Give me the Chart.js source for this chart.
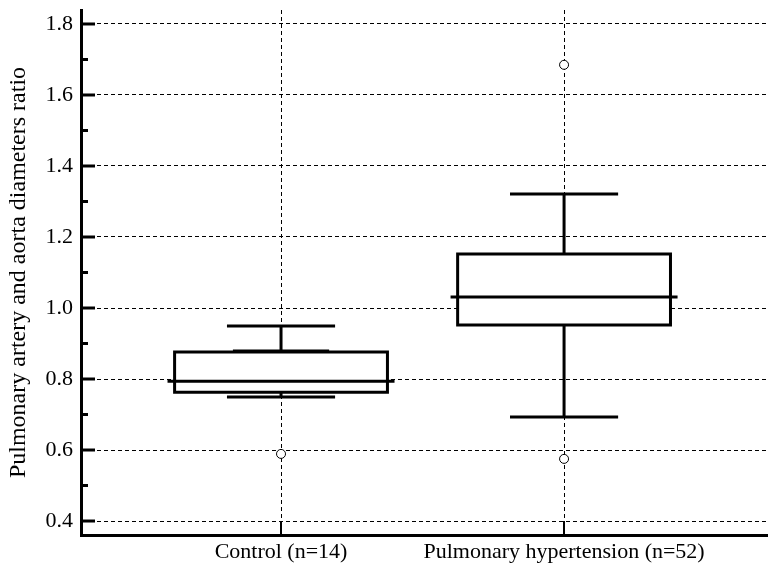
<!DOCTYPE html>
<html>
<head>
<meta charset="utf-8">
<script src="https://cdn.jsdelivr.net/npm/chart.js@4.4.1/dist/chart.umd.min.js"></script>
<style>
  html, body { margin: 0; padding: 0; background: #fff; }
  #wrap { width: 781px; height: 575px; }
</style>
</head>
<body>
<div id="wrap"><canvas id="chart" width="781" height="575"></canvas></div>
<script>
(function () {
    'use strict';

    // ── Data ──────────────────────────────────────────────────────────────────
    var categories  = ['Control (n=14)', 'Pulmonary hypertension (n=52)'];
    var positions   = [1, 2];
    var whiskerLow  = [0.749, 0.693];
    var q1          = [0.763, 0.952];
    var median      = [0.794, 1.031];
    var q3          = [0.876, 1.152];
    var whiskerHigh = [0.949, 1.321];
    var innerMark   = [0.879, null];          // heavy short line on control box top
    var outliers    = [[0.589], [1.685, 0.575]];
    var yTicks      = [0.4, 0.6, 0.8, 1.0, 1.2, 1.4, 1.6, 1.8];
    var yMinorTicks = [0.5, 0.7, 0.9, 1.1, 1.3, 1.5, 1.7];

    // ── Sizes (x units, one category step = 1) ────────────────────────────────
    var BOX_HALF = 0.376, MED_HALF = 0.401, CAP_HALF = 0.191, MARK_HALF = 0.17;
    var FONT = "'Liberation Serif', 'Times New Roman', serif";

    function seg(x0, y0, x1, y1) {
        return [{ x: x0, y: y0 }, { x: x1, y: y1 }];
    }

    function lineSet(data, extra) {
        var ds = {
            type: 'line',
            data: data,
            borderColor: '#000',
            borderWidth: 3,
            pointRadius: 0,
            fill: false,
            order: 0,
            borderCapStyle: 'butt'
        };
        for (var k in extra) ds[k] = extra[k];
        return ds;
    }

    var datasets = [];
    positions.forEach(function (c, i) {
        // box (white fill hides the grid)
        datasets.push(lineSet([
            { x: c - BOX_HALF, y: q1[i] }, { x: c + BOX_HALF, y: q1[i] },
            { x: c + BOX_HALF, y: q3[i] }, { x: c - BOX_HALF, y: q3[i] },
            { x: c - BOX_HALF, y: q1[i] }, { x: c + BOX_HALF, y: q1[i] }
        ], { fill: 'shape', backgroundColor: '#fff', order: 2, borderJoinStyle: 'miter' }));
        datasets.push(lineSet(seg(c - MED_HALF, median[i], c + MED_HALF, median[i])));
        datasets.push(lineSet(seg(c, q3[i], c, whiskerHigh[i])));
        datasets.push(lineSet(seg(c, q1[i], c, whiskerLow[i])));
        datasets.push(lineSet(seg(c - CAP_HALF, whiskerHigh[i], c + CAP_HALF, whiskerHigh[i])));
        datasets.push(lineSet(seg(c - CAP_HALF, whiskerLow[i], c + CAP_HALF, whiskerLow[i])));
        if (innerMark[i] !== null) {
            datasets.push(lineSet(seg(c - MARK_HALF, innerMark[i], c + MARK_HALF, innerMark[i])));
        }
        datasets.push({
            type: 'scatter',
            data: outliers[i].map(function (v) { return { x: c, y: v }; }),
            pointRadius: 4.5,
            pointBackgroundColor: '#fff',
            pointBorderColor: '#000',
            pointBorderWidth: 1,
            order: 0
        });
    });

    // ── Inward tick marks ─────────────────────────────────────────────────────
    var innerTicks = {
        id: 'innerTicks',
        afterDraw: function (chart) {
            var ctx = chart.ctx, area = chart.chartArea;
            var x = chart.scales.x, y = chart.scales.y;
            ctx.save();
            ctx.strokeStyle = '#000';
            ctx.lineWidth = 3;
            ctx.lineCap = 'butt';
            function hTick(v, len) {
                var py = y.getPixelForValue(v);
                ctx.beginPath();
                ctx.moveTo(area.left, py);
                ctx.lineTo(area.left + len, py);
                ctx.stroke();
            }
            yTicks.forEach(function (v) { hTick(v, 14); });
            yMinorTicks.forEach(function (v) { hTick(v, 7); });
            ctx.lineWidth = 2;
            positions.forEach(function (v) {
                var px = Math.round(x.getPixelForValue(v));
                ctx.beginPath();
                ctx.moveTo(px, area.bottom);
                ctx.lineTo(px, area.bottom - 14);
                ctx.stroke();
            });
            ctx.restore();
        }
    };

    var gridOpts = { color: '#000', lineWidth: 1, drawTicks: false };
    var borderOpts = { display: true, color: '#000', width: 3, dash: [4, 3] };

    new Chart(document.getElementById('chart').getContext('2d'), {
        type: 'scatter',
        data: { datasets: datasets },
        options: {
            responsive: false,
            animation: false,
            layout: { padding: { top: 10, right: 14, left: 0, bottom: 0 } },
            plugins: { legend: { display: false }, tooltip: { enabled: false } },
            scales: {
                x: {
                    type: 'linear',
                    min: 0.2933,
                    max: 2.717,
                    afterBuildTicks: function (scale) {
                        scale.ticks = positions.map(function (v) { return { value: v }; });
                    },
                    afterFit: function (scale) {
                        scale.height = 40;
                        scale.paddingLeft = 0;
                        scale.paddingRight = 0;
                    },
                    ticks: {
                        color: '#000',
                        padding: 4,
                        maxRotation: 0,
                        autoSkip: false,
                        font: { family: FONT, size: 22 },
                        callback: function (v) { return categories[positions.indexOf(v)]; }
                    },
                    grid: gridOpts,
                    border: borderOpts
                },
                y: {
                    type: 'linear',
                    min: 0.3606,
                    max: 1.8394,
                    afterBuildTicks: function (scale) {
                        scale.ticks = yTicks.map(function (v) { return { value: v }; });
                    },
                    afterFit: function (scale) {
                        scale.width = 81;
                        scale.paddingTop = 0;
                        scale.paddingBottom = 0;
                    },
                    ticks: {
                        color: '#000',
                        padding: 8,
                        font: { family: FONT, size: 22 },
                        callback: function (v) { return Number(v).toFixed(1); }
                    },
                    grid: gridOpts,
                    border: borderOpts,
                    title: {
                        display: true,
                        text: 'Pulmonary artery and aorta diameters ratio',
                        color: '#000',
                        padding: { top: 4, bottom: 4 },
                        font: { family: FONT, size: 24 }
                    }
                }
            }
        },
        plugins: [innerTicks]
    });
})();
</script>
</body>
</html>
